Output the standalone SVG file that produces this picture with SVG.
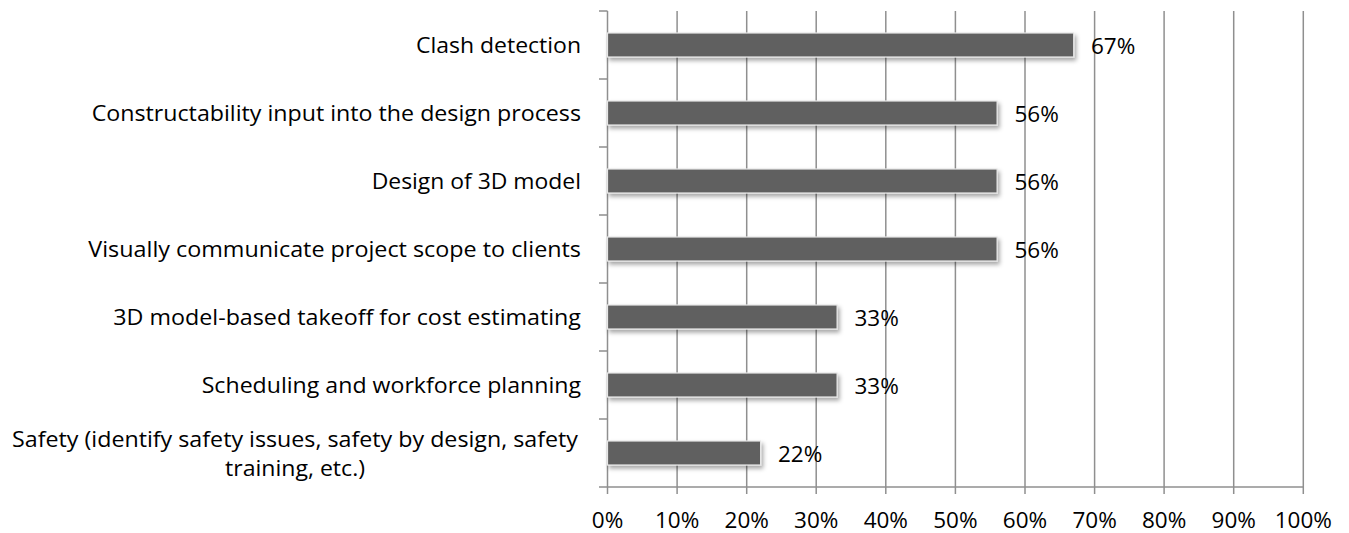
<svg xmlns="http://www.w3.org/2000/svg" width="1349" height="533" viewBox="0 0 1349 533">
<style>
  .grid { stroke: #8f8f8f; stroke-width: 1.5; fill: none; }
  .axis { stroke: #8f8f8f; stroke-width: 1.5; fill: none; }
  .bar { fill: #616161; stroke: #e6e6e6; stroke-width: 1.2; filter: url(#shadow); }
  .lbl { font-family: "Open Sans", "Liberation Sans", sans-serif; font-size: 22.5px; fill: #000; }
</style>
<defs>
  <filter id="shadow" x="-5%" y="-30%" width="110%" height="180%">
    <feDropShadow dx="2" dy="3" stdDeviation="2" flood-color="#000" flood-opacity="0.35"/>
  </filter>
</defs>
<rect width="1349" height="533" fill="#ffffff"/>
<g id="gridlines">
  <line class="grid" x1="677.1" y1="11" x2="677.1" y2="494"/>
  <line class="grid" x1="746.7" y1="11" x2="746.7" y2="494"/>
  <line class="grid" x1="816.2" y1="11" x2="816.2" y2="494"/>
  <line class="grid" x1="885.8" y1="11" x2="885.8" y2="494"/>
  <line class="grid" x1="955.4" y1="11" x2="955.4" y2="494"/>
  <line class="grid" x1="1025" y1="11" x2="1025" y2="494"/>
  <line class="grid" x1="1094.6" y1="11" x2="1094.6" y2="494"/>
  <line class="grid" x1="1164.1" y1="11" x2="1164.1" y2="494"/>
  <line class="grid" x1="1233.7" y1="11" x2="1233.7" y2="494"/>
  <line class="grid" x1="1303.3" y1="11" x2="1303.3" y2="494"/>
</g>
<g id="axes">
  <line class="axis" x1="607.5" y1="11" x2="607.5" y2="494"/>
  <line class="axis" x1="599" y1="487" x2="1303.3" y2="487"/>
  <path class="axis" d="M599 11H607.5M599 79H607.5M599 147H607.5M599 215H607.5M599 283H607.5M599 351H607.5M599 419H607.5"/>
</g>
<g id="bars">
  <g id="bar-clash"><rect class="bar" x="607.5" y="33" width="466.2" height="24"/></g>
  <g id="bar-constructability"><rect class="bar" x="607.5" y="101" width="389.6" height="24"/></g>
  <g id="bar-design3d"><rect class="bar" x="607.5" y="169" width="389.6" height="24"/></g>
  <g id="bar-visual"><rect class="bar" x="607.5" y="237" width="389.6" height="24"/></g>
  <g id="bar-takeoff"><rect class="bar" x="607.5" y="305" width="229.6" height="24"/></g>
  <g id="bar-scheduling"><rect class="bar" x="607.5" y="373" width="229.6" height="24"/></g>
  <g id="bar-safety"><rect class="bar" x="607.5" y="441" width="153.1" height="24"/></g>
</g>
<g id="value-labels" class="lbl">
  <text x="1091" y="54">67%</text>
  <text x="1014.5" y="122">56%</text>
  <text x="1014.5" y="190">56%</text>
  <text x="1014.5" y="258">56%</text>
  <text x="854.5" y="326">33%</text>
  <text x="854.5" y="394">33%</text>
  <text x="778" y="462">22%</text>
</g>
<g id="category-labels" class="lbl">
  <text x="416" y="53" textLength="165" lengthAdjust="spacingAndGlyphs">Clash detection</text>
  <text x="91.7" y="121" textLength="489.3" lengthAdjust="spacingAndGlyphs">Constructability input into the design process</text>
  <text x="371.7" y="189" textLength="209.3" lengthAdjust="spacingAndGlyphs">Design of 3D model</text>
  <text x="88.3" y="257" textLength="492.7" lengthAdjust="spacingAndGlyphs">Visually communicate project scope to clients</text>
  <text x="113.3" y="325" textLength="467.7" lengthAdjust="spacingAndGlyphs">3D model-based takeoff for cost estimating</text>
  <text x="201.7" y="393" textLength="379.3" lengthAdjust="spacingAndGlyphs">Scheduling and workforce planning</text>
  <text x="12" y="447" textLength="566" lengthAdjust="spacingAndGlyphs">Safety (identify safety issues, safety by design, safety</text>
  <text x="225" y="476" textLength="140" lengthAdjust="spacingAndGlyphs">training, etc.)</text>
</g>
<g id="axis-labels" class="lbl" text-anchor="middle">
  <text x="607.5" y="528">0%</text>
  <text x="677.1" y="528">10%</text>
  <text x="746.7" y="528">20%</text>
  <text x="816.2" y="528">30%</text>
  <text x="885.8" y="528">40%</text>
  <text x="955.4" y="528">50%</text>
  <text x="1025" y="528">60%</text>
  <text x="1094.6" y="528">70%</text>
  <text x="1164.1" y="528">80%</text>
  <text x="1233.7" y="528">90%</text>
  <text x="1303.3" y="528">100%</text>
</g>
</svg>
